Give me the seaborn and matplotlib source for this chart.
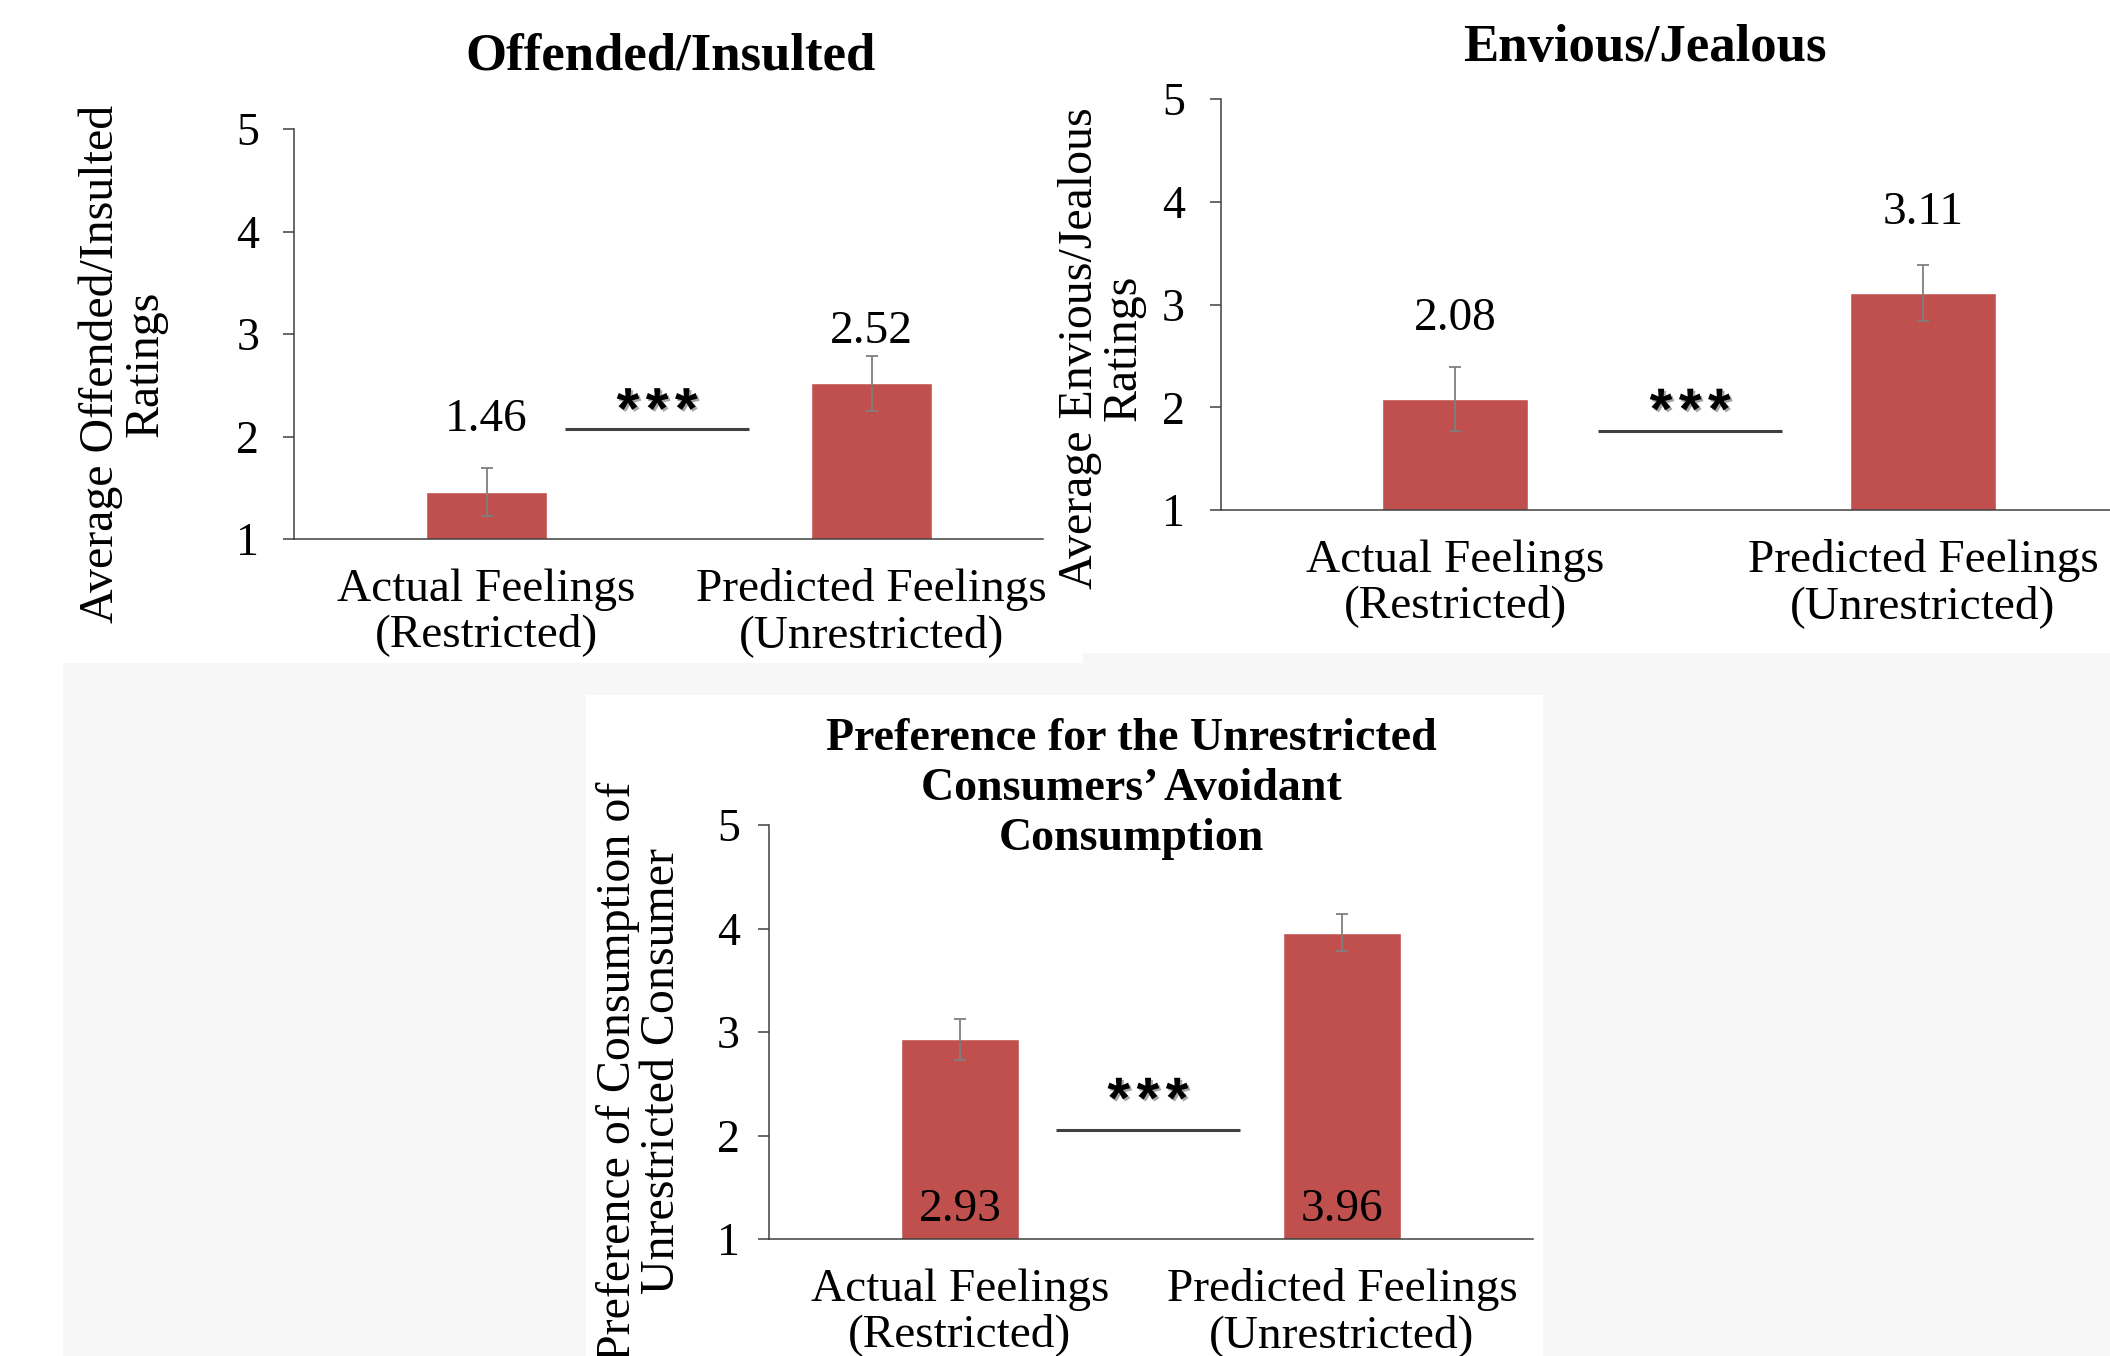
import matplotlib
matplotlib.use("Agg")
import matplotlib.pyplot as plt
import matplotlib.patheffects as pe
from matplotlib.patches import Rectangle
import seaborn as sns
import pandas as pd

# ---- data ---------------------------------------------------------------
categories = ["Actual Feelings\n(Restricted)", "Predicted Feelings\n(Unrestricted)"]

offended_means = [1.46, 2.52]
offended_errors = [0.235, 0.27]

envious_means = [2.08, 3.11]
envious_errors = [0.315, 0.275]

preference_means = [2.93, 3.96]
preference_errors = [0.20, 0.18]

y_ticks = [1, 2, 3, 4, 5]

titles = ["Offended/Insulted",
          "Envious/Jealous",
          "Preference for the Unrestricted\nConsumers\u2019 Avoidant\nConsumption"]
y_labels = ["Average Offended/Insulted\nRatings",
            "Average Envious/Jealous\nRatings",
            "Preference of Consumption of\nUnrestricted Consumer"]
significance = "***"

# ---- style --------------------------------------------------------------
sns.set_style("white")
plt.rcParams["font.family"] = ["Liberation Serif", "DejaVu Serif"]
plt.rcParams["text.color"] = "black"
plt.rcParams["xtick.color"] = "black"
plt.rcParams["ytick.color"] = "black"
plt.rcParams["xtick.labelcolor"] = "black"
plt.rcParams["ytick.labelcolor"] = "black"

BAR = "#C0504D"
ERR = "#7f7f7f"
W, H, DPI = 2110, 1356, 100

fig = plt.figure(figsize=(W / DPI, H / DPI), dpi=DPI, facecolor="#f7f7f7")


def px_rect(x0, y0, x1, y1):
    fig.add_artist(Rectangle((x0 / W, 1 - y1 / H), (x1 - x0) / W, (y1 - y0) / H,
                             transform=fig.transFigure, facecolor="white",
                             edgecolor="none", zorder=0))


def px_axes(left, top, right, bottom):
    ax = fig.add_axes([left / W, 1 - bottom / H, (right - left) / W, (bottom - top) / H])
    ax.set_facecolor("none")
    return ax


def px_text(x, y, s, **kw):
    return fig.text(x / W, 1 - y / H, s, **kw)


# white card behind each chart
px_rect(0, 0, 1083, 663)
px_rect(0, 663, 63, H)
px_rect(1083, 0, W, 653)
px_rect(586, 695, 1543, H)

star_effects = [pe.SimplePatchShadow(offset=(1.5, -1.5), alpha=0.35), pe.Normal()]


def draw_panel(ax, means, errors, xmax, width, label_y, sig_x, sig_y, star_y, ytick_pad):
    df = pd.DataFrame({"group": categories, "value": means})
    sns.barplot(data=df, x="group", y="value", color=BAR, saturation=1,
                width=width, errorbar=None, ax=ax, zorder=2)
    ax.errorbar(range(len(means)), means, yerr=errors, fmt="none", ecolor=ERR,
                elinewidth=1.3, capsize=4, capthick=1.3, zorder=3)
    ax.set_ylim(y_ticks[0], y_ticks[-1])
    ax.set_xlim(-0.5, xmax)
    ax.set_yticks(y_ticks)
    ax.set_yticklabels([str(t) for t in y_ticks], fontsize=33)
    ax.set_xticks(range(len(categories)))
    ax.set_xticklabels(categories, fontsize=34, linespacing=1.08)
    ax.tick_params(axis="x", which="major", length=0, pad=21)
    ax.set_xticks([t for t in (-0.5, 0.5, 1.5) if t <= xmax], minor=True)
    ax.tick_params(axis="x", which="minor", length=8, width=1.1, color="#404040",
                   direction="out")
    ax.tick_params(axis="y", length=8, width=1.1, color="#404040", direction="out",
                   pad=ytick_pad, left=True)
    ax.set_xlabel("")
    ax.set_ylabel("")
    for side in ("top", "right"):
        ax.spines[side].set_visible(False)
    for side in ("left", "bottom"):
        ax.spines[side].set_color("#404040")
        ax.spines[side].set_linewidth(1.1)
    # value labels
    for i, (m, ly) in enumerate(zip(means, label_y)):
        ax.text(i, ly, f"{m:.2f}", ha="center", va="baseline", fontsize=34, zorder=4)
    # significance bracket with spaced, shadowed stars
    ax.plot(sig_x, [sig_y, sig_y], color="#404040", lw=2.2, solid_capstyle="butt",
            zorder=3)
    mid = sum(sig_x) / 2
    n = len(significance)
    for k, ch in enumerate(significance):
        ax.annotate(ch, xy=(mid, star_y), xytext=((k - (n - 1) / 2) * 21, 0),
                    textcoords="offset points", ha="center", va="baseline",
                    fontsize=42, fontweight="bold", family="Liberation Sans",
                    zorder=4, path_effects=star_effects)


# panel 1: offended / insulted
ax1 = px_axes(294, 129, 1043, 539)
draw_panel(ax1, offended_means, offended_errors, xmax=1.445, width=0.314,
           label_y=[2.05, 2.91], sig_x=[0.204, 0.682], sig_y=2.07,
           star_y=2.08, ytick_pad=17)

# panel 2: envious / jealous (its axis runs past the right edge)
ax2 = px_axes(1221, 99, 2157, 510)
draw_panel(ax2, envious_means, envious_errors, xmax=1.5, width=0.31,
           label_y=[2.75, 3.78], sig_x=[0.306, 0.699], sig_y=1.77,
           star_y=1.79, ytick_pad=18)

# panel 3: preference
ax3 = px_axes(769, 825, 1533, 1239)
draw_panel(ax3, preference_means, preference_errors, xmax=1.5, width=0.31,
           label_y=[1.17, 1.17], sig_x=[0.251, 0.733], sig_y=2.05,
           star_y=2.17, ytick_pad=13)

# titles
px_text(671, 56, titles[0], ha="center", va="center", fontsize=38, fontweight="bold")
px_text(1645, 48, titles[1], ha="center", va="center", fontsize=38, fontweight="bold")
px_text(1131, 789, titles[2], ha="center", va="center", fontsize=33, fontweight="bold",
        linespacing=1.26, multialignment="center")

# y-axis titles
px_text(123, 364, y_labels[0], rotation=90, ha="center", va="center", fontsize=34.5,
        linespacing=1.0, multialignment="center")
px_text(1102, 348, y_labels[1], rotation=90, ha="center", va="center", fontsize=34.5,
        linespacing=1.0, multialignment="center")
px_text(640, 1071, y_labels[2], rotation=90, ha="center", va="center", fontsize=34.5,
        linespacing=1.0, multialignment="center")

fig.savefig("out.png", dpi=DPI, facecolor=fig.get_facecolor())
